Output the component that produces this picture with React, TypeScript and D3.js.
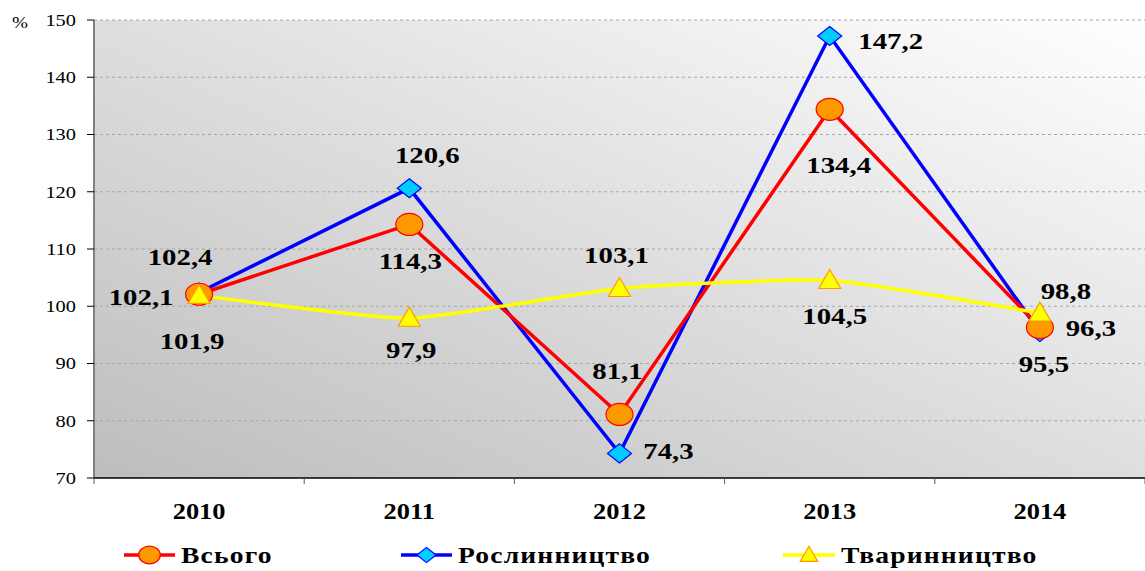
import React, { useEffect, useRef } from 'react';
import * as d3 from 'd3';

const years = ['2010', '2011', '2012', '2013', '2014'];
const total = [102.1, 114.3, 81.1, 134.4, 96.3];
const crops = [102.4, 120.6, 74.3, 147.2, 95.5];
const livestock = [101.9, 97.9, 103.1, 104.5, 98.8];
const yTicks = [70, 80, 90, 100, 110, 120, 130, 140, 150];

// label offsets (dx, dy from the marker), per series
const totalLabelPos = [[-58, 2], [1, 36], [-2, -44], [9, 55], [51, 0]];
const cropsLabelPos = [[-19, -36], [18, -34], [49, -3], [61, 5], [4, 32]];
const livestockLabelPos = [[-7, 45], [2, 31], [-3, -34], [5, 35], [26, -23]];

const SERIF = '"Liberation Serif", "Times New Roman", serif';
const SX = 1.2; // the original is stretched horizontally

const App: React.FC = () => {
  const svgRef = useRef<SVGSVGElement>(null);

  useEffect(() => {
    if (!svgRef.current) return;
    const svg = d3.select(svgRef.current);
    svg.selectAll('*').remove();

    const left = 94, right = 1145, top = 20, bottom = 478;

    const x = d3.scaleBand().domain(years).range([left, right]);
    const y = d3.scaleLinear().domain([70, 150]).range([bottom, top]);
    const cx = (i: number) => (x(years[i]) as number) + x.bandwidth() / 2;

    // text helper: places text at (tx, ty) and stretches it horizontally
    const addText = (
      g: d3.Selection<any, any, any, any>, tx: number, ty: number, str: string,
      size: number, anchor = 'middle', bold = true, sx = SX
    ) => g.append('text')
      .attr('transform', `translate(${tx},${ty}) scale(${sx},1)`)
      .attr('dy', '0.35em')
      .attr('text-anchor', anchor)
      .attr('font-family', SERIF)
      .attr('font-weight', bold ? 'bold' : 'normal')
      .attr('font-size', size)
      .text(str);

    const defs = svg.append('defs');
    const grad = defs.append('linearGradient')
      .attr('id', 'bg')
      .attr('x1', 0).attr('y1', 1).attr('x2', 1).attr('y2', 0);
    grad.append('stop').attr('offset', '0%').attr('stop-color', '#bdbdbd');
    grad.append('stop').attr('offset', '100%').attr('stop-color', '#ffffff');

    svg.append('rect')
      .attr('x', left).attr('y', top)
      .attr('width', right - left).attr('height', bottom - top)
      .attr('fill', 'url(#bg)');

    // grid
    svg.append('g').selectAll('line')
      .data(yTicks.filter(t => t > 70))
      .join('line')
      .attr('x1', left).attr('x2', right)
      .attr('y1', d => y(d)).attr('y2', d => y(d))
      .attr('stroke', '#a6a6a6')
      .attr('stroke-dasharray', '3,3');

    // y axis
    svg.append('line')
      .attr('x1', left).attr('x2', left).attr('y1', top).attr('y2', bottom)
      .attr('stroke', '#808080').attr('stroke-width', 2);
    const yg = svg.append('g');
    yg.selectAll('line').data(yTicks).join('line')
      .attr('x1', left - 7).attr('x2', left)
      .attr('y1', d => y(d)).attr('y2', d => y(d))
      .attr('stroke', '#000');
    yTicks.forEach(t => addText(yg, 76, y(t), String(t), 17, 'end', false));
    addText(svg, 12, 22, '%', 16, 'start', false);

    // x axis
    svg.append('line')
      .attr('x1', left).attr('x2', right).attr('y1', bottom).attr('y2', bottom)
      .attr('stroke', '#000').attr('stroke-width', 1.5);
    const xt = years.map(yr => x(yr) as number).concat([right]);
    svg.append('g').selectAll('line').data(xt).join('line')
      .attr('x1', d => d).attr('x2', d => d)
      .attr('y1', bottom).attr('y2', bottom + 6)
      .attr('stroke', '#555');
    const xg = svg.append('g');
    years.forEach((yr, i) => addText(xg, cx(i), 511, yr, 23, 'middle', true, 1.15));

    const lineStraight = d3.line<number>().x((d, i) => cx(i)).y(d => y(d));
    const lineSmooth = d3.line<number>().x((d, i) => cx(i)).y(d => y(d)).curve(d3.curveCardinal.tension(0.5));

    const drawLine = (vals: number[], color: string, gen: d3.Line<number>) => {
      svg.append('path').datum(vals)
        .attr('d', gen)
        .attr('fill', 'none')
        .attr('stroke', color)
        .attr('stroke-width', 3.5);
    };

    const diamond = (g: d3.Selection<any, any, any, any>, px: number, py: number, s = 1) => {
      g.append('path')
        .attr('d', `M${px},${py - 9.5 * s}L${px + 12 * s},${py}L${px},${py + 9.5 * s}L${px - 12 * s},${py}Z`)
        .attr('fill', '#00ccff').attr('stroke', '#0000ff').attr('stroke-width', 1.2);
    };
    const circle = (g: d3.Selection<any, any, any, any>, px: number, py: number, s = 1) => {
      g.append('ellipse')
        .attr('cx', px).attr('cy', py).attr('rx', 13.5 * s).attr('ry', 11 * s)
        .attr('fill', '#ff9900').attr('stroke', '#ff0000').attr('stroke-width', 1.2);
    };
    const triangle = (g: d3.Selection<any, any, any, any>, px: number, py: number, s = 1) => {
      g.append('path')
        .attr('d', `M${px},${py - 11 * s}L${px + 11 * s},${py + 8 * s}L${px - 11 * s},${py + 8 * s}Z`)
        .attr('fill', '#ffff00').attr('stroke', '#ff9900').attr('stroke-width', 1.2);
    };

    drawLine(crops, '#0000ff', lineStraight);
    drawLine(total, '#ff0000', lineStraight);
    drawLine(livestock, '#ffff00', lineSmooth);

    const mg = svg.append('g');
    crops.forEach((v, i) => diamond(mg, cx(i), y(v)));
    total.forEach((v, i) => circle(mg, cx(i), y(v)));
    livestock.forEach((v, i) => triangle(mg, cx(i), y(v)));

    const fmt = (v: number) => v.toFixed(1).replace('.', ',');
    const labels = (vals: number[], pos: number[][]) => {
      const g = svg.append('g');
      vals.forEach((v, i) => addText(g, cx(i) + pos[i][0], y(v) + pos[i][1], fmt(v), 24));
    };
    labels(total, totalLabelPos);
    labels(crops, cropsLabelPos);
    labels(livestock, livestockLabelPos);

    // legend
    const lg = svg.append('g');
    const legendItems = [
      { name: 'Всього', color: '#ff0000', x0: 124, x1: 175, draw: circle },
      { name: 'Рослинництво', color: '#0000ff', x0: 401, x1: 452, draw: diamond },
      { name: 'Тваринництво', color: '#ffff00', x0: 783, x1: 835, draw: triangle },
    ];
    const ly = 555;
    legendItems.forEach(it => {
      lg.append('line')
        .attr('x1', it.x0).attr('x2', it.x1).attr('y1', ly).attr('y2', ly)
        .attr('stroke', it.color).attr('stroke-width', 3.5);
      it.draw(lg, (it.x0 + it.x1) / 2, ly, 0.8);
      addText(lg, it.x1 + 6, ly, it.name, 24, 'start', true, 1.15)
        .attr('letter-spacing', 1);
    });
  }, []);

  return (
    <svg
      ref={svgRef}
      width={1145}
      height={571}
      style={{ position: 'absolute', left: 0, top: 0, background: '#fff' }}
    />
  );
};

export default App;
